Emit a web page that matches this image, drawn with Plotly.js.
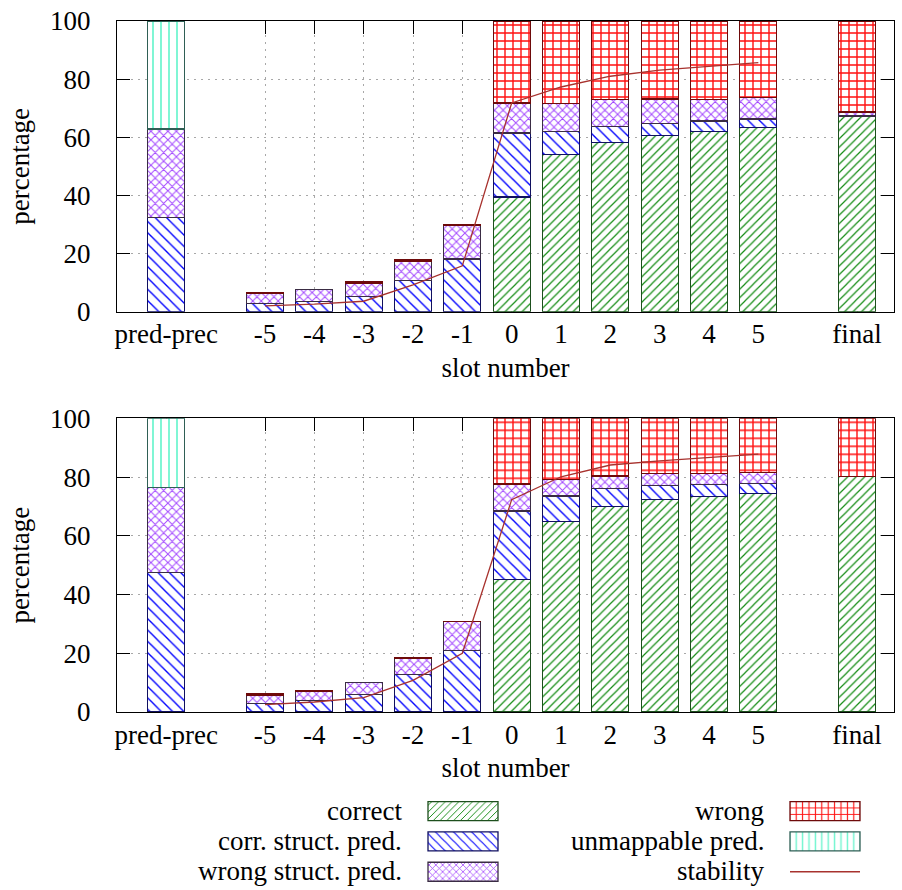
<!DOCTYPE html>
<html><head><meta charset="utf-8">
<script src="https://cdn.plot.ly/plotly-3.0.1.min.js"></script>
<style>body{margin:0;background:#fff}</style>
</head><body>
<div id="chart" style="width:902px;height:890px"></div>
<script>
// ---- data ----
const categories = ['pred-prec','-5','-4','-3','-2','-1','0','1','2','3','4','5','final'];
const stabilitySlots = ['-5','-4','-3','-2','-1','0','1','2','3','4','5'];
const seriesNames = ['correct','corr. struct. pred.','wrong struct. pred.','wrong','unmappable pred.','stability'];

// upper panel
const correctTop       = [0,0,0,0,0,0,39.5,54.1,58.2,60.5,62.1,63.4,67.3];
const corrStructTop    = [32.4,2.75,3.4,5.2,10.7,18.1,22.0,8.0,5.5,4.3,3.5,2.9,0];
const wrongStructTop   = [30.4,3.45,4.2,4.65,6.6,11.6,10.3,9.5,9.2,8.4,7.5,7.4,1.4];
const wrongTop         = [0,0.5,0,0.35,0.5,0.2,28.2,28.4,27.1,26.8,26.9,26.3,31.3];
const unmappableTop    = [37.2,0,0,0,0,0,0,0,0,0,0,0,0];
const stabilityTop     = [2.0,2.6,3.6,9.2,15.8,71.8,77.3,81.0,83.1,84.4,85.7];

// lower panel
const correctBottom     = [0,0,0,0,0,0,45.1,64.9,70.0,72.4,73.4,74.4,80.3];
const corrStructBottom  = [47.5,3.0,3.9,5.9,12.7,21.0,23.3,8.6,6.0,4.8,4.1,3.5,0];
const wrongStructBottom = [29.0,2.8,3.15,4.1,5.4,9.7,9.2,5.7,4.4,4.0,3.8,3.6,0];
const wrongBottom       = [0,0.4,0.35,0,0.3,0.2,22.4,20.8,19.6,18.8,18.7,18.5,19.7];
const unmappableBottom  = [23.5,0,0,0,0,0,0,0,0,0,0,0,0];
const stabilityBottom   = [2.5,3.4,4.9,10.8,20.0,72.3,80.1,84.1,85.5,86.7,87.8];

const yTicks = [0,20,40,60,80,100];

// ---- styles ----
const FONT = 'Liberation Serif, Times New Roman, serif';
const styles = [
  {fg:'#148c14', line:'#1d4f1d', shape:'/',  size:6, solidity:0.2},
  {fg:'#0000ff', line:'#101060', shape:'\\', size:8, solidity:0.17},
  {fg:'#a348ff', line:'#3a2c44', shape:'x',  size:6, solidity:0.3},
  {fg:'#ff1010', line:'#6e0a0a', shape:'+',  size:8, solidity:0.32},
  {fg:'#6ff5cf', line:'#2f5f55', shape:'|',  size:8, solidity:0.22}
];
const legendRank = [1,2,3,1,2,3];
const legendOf = ['legend','legend','legend','legend2','legend2','legend2'];

// gap placeholders so the axis has empty slots around the slot range
const axisCats = [categories[0], ' '].concat(categories.slice(1, 12), ['  ', categories[12]]);

function barTrace(i, vals, xa, ya, show) {
  const s = styles[i];
  return {
    type:'bar', x:categories, y:vals.map(v => v === 0 ? null : v), xaxis:xa, yaxis:ya,
    name:'', showlegend:show, legend:legendOf[i], legendrank:legendRank[i],
    marker:{color:'#ffffff', line:{color:s.line, width:1.3},
      pattern:{shape:s.shape, fgcolor:s.fg, bgcolor:'#ffffff', size:s.size, solidity:s.solidity, fillmode:'replace'}},
    hoverinfo:'y'
  };
}
function lineTrace(vals, xa, ya, show) {
  return {type:'scatter', mode:'lines', x:stabilitySlots, y:vals, xaxis:xa, yaxis:ya,
    name:'', showlegend:show, legend:'legend2', legendrank:3,
    line:{color:'#a8322e', width:1.3}, hoverinfo:'y'};
}

const topSeries = [correctTop, corrStructTop, wrongStructTop, wrongTop, unmappableTop];
const botSeries = [correctBottom, corrStructBottom, wrongStructBottom, wrongBottom, unmappableBottom];
const data = [];
topSeries.forEach((v,i) => data.push(barTrace(i, v, 'x', 'y', true)));
data.push(lineTrace(stabilityTop, 'x', 'y', true));
botSeries.forEach((v,i) => data.push(barTrace(i, v, 'x2', 'y2', false)));
data.push(lineTrace(stabilityBottom, 'x2', 'y2', false));

function xAxis(anchor) {
  return {
    type:'category', categoryorder:'array', categoryarray:axisCats, anchor:anchor,
    range:[-1, 14.75], tickmode:'array', tickvals:categories, ticktext:categories,
    ticks:'inside', ticklen:13, tickcolor:'#000', tickwidth:1,
    showline:true, linecolor:'#000', linewidth:1.2, mirror:'ticks',
    showgrid:true, gridcolor:'#a8a8a8', gridwidth:1, griddash:'2px,5px',
    zeroline:false, layer:'below traces', ticklabelstandoff:-2,
    tickfont:{family:FONT, size:27, color:'#000'},
    title:{text:'slot number', font:{family:FONT, size:27, color:'#000'}, standoff:9}
  };
}
function yAxis(domain, anchor) {
  return {
    domain:domain, anchor:anchor, range:[0,100], tickmode:'array', tickvals:yTicks,
    ticks:'inside', ticklen:13, tickcolor:'#000', tickwidth:1,
    showline:true, linecolor:'#000', linewidth:1.2, mirror:'ticks',
    showgrid:true, gridcolor:'#a8a8a8', gridwidth:1, griddash:'2px,5px',
    zeroline:false, layer:'below traces', ticklabelstandoff:20,
    tickfont:{family:FONT, size:27, color:'#000'},
    title:{text:'percentage', font:{family:FONT, size:27, color:'#000'}, standoff:12}
  };
}

// legend text (drawn left of the swatches)
const W = 777, H = 691, L = 117, B = 712;
const px = v => (v - L) / W, py = v => (B - v) / H;
const labelCols = [[0,1,2],[3,4,5]];
const labelX = [404, 766];
const rowY = [811, 841, 871];
const annotations = [];
labelCols.forEach((col, c) => col.forEach((si, r) => {
  annotations.push({xref:'paper', yref:'paper', x:px(labelX[c]), y:py(rowY[r]), xanchor:'right', yanchor:'middle',
    text:seriesNames[si], showarrow:false, font:{family:FONT, size:27, color:'#000'}});
}));

const legendBase = {orientation:'v', traceorder:'normal', xanchor:'left', yanchor:'top', y:py(791), itemwidth:70,
  font:{family:FONT, size:21, color:'#000'}, bgcolor:'rgba(0,0,0,0)', borderwidth:0, itemclick:false, itemdoubleclick:false};

const layout = {
  width:902, height:890, paper_bgcolor:'#fff', plot_bgcolor:'#fff',
  margin:{l:117, r:8, t:21, b:178, autoexpand:false},
  barmode:'stack', bargap:0.25,
  font:{family:FONT, size:27, color:'#000'},
  xaxis:xAxis('y'), xaxis2:xAxis('y2'),
  yaxis:yAxis([0.5793, 1], 'x'), yaxis2:yAxis([0, 0.425], 'x2'),
  legend:Object.assign({}, legendBase, {x:px(423)}),
  legend2:Object.assign({}, legendBase, {x:px(785)}),
  annotations:annotations,
  hovermode:false
};

function widenSwatches(gd) {
  gd.querySelectorAll('g.legendpoints path').forEach(p => {
    const d = (p.getAttribute('d') || '').replace(/\s/g, '');
    if (d === 'M6,6H-6V-6H6Z') p.setAttribute('d', 'M35,9.5H-35V-9.5H35Z');
  });
}

Plotly.newPlot('chart', data, layout, {displayModeBar:false, staticPlot:true}).then(gd => {
  widenSwatches(gd);
  setTimeout(() => widenSwatches(gd), 50);
});
</script>
</body></html>
